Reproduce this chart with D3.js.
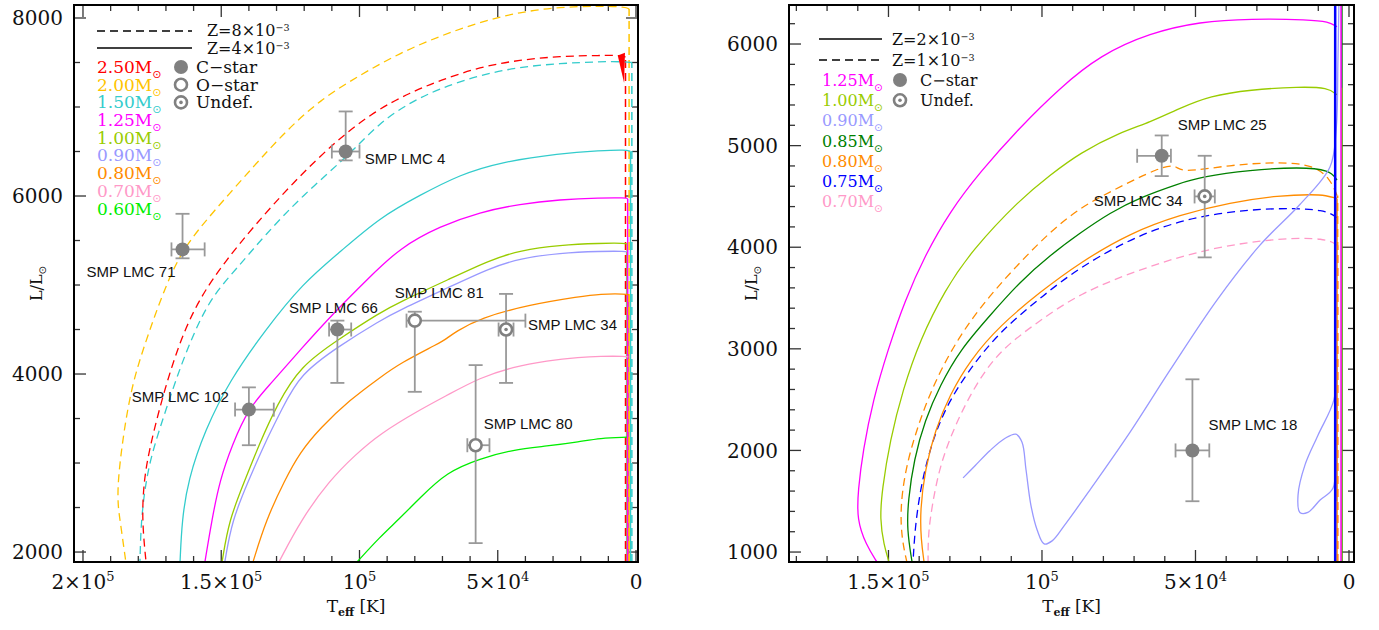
<!DOCTYPE html>
<html><head><meta charset="utf-8">
<script src="https://cdn.jsdelivr.net/npm/d3@7"></script>
<style>body{margin:0;background:#fff}</style></head>
<body><svg id="c" width="1379" height="630"></svg>
<script>
// ================= DATA =================
// ---- Left panel: Z=8e-3 (dashed) and Z=4e-3 (solid); [Teff K, L/Lsun]
const trkL_250_Z8 = [[3800,7560],[5000,7580],[13000,7580],[27500,7570],[42000,7530],[56400,7450],[70900,7300],[81700,7160],[93700,6970],[108200,6630],[124100,6150],[138500,5650],[148700,5260],[156600,4910],[162800,4530],[167800,4100],[172200,3630],[175800,3180],[178000,2810],[178700,2360],[177200,1890]];
const trkL_200_Z8 = [[2500,8100],[3600,8124],[13000,8135],[27500,8124],[42000,8067],[56400,7955],[70900,7798],[85400,7607],[99800,7360],[114300,7079],[127000,6719],[138500,6326],[152300,5843],[164200,5404],[171100,4910],[176500,4438],[181900,3933],[185200,3371],[187400,2809],[187400,2528],[186600,2360],[184500,1888]];
const trkL_150_Z8 = [[1500,7500],[5000,7510],[13000,7510],[27500,7490],[42000,7450],[56400,7360],[70900,7210],[81700,7050],[92600,6830],[104500,6440],[120500,6010],[134200,5560],[144300,5190],[153400,4870],[159500,4490],[164900,4070],[170000,3600],[174700,3150],[177200,2810],[179000,2360],[179400,1890]];
const trkL_150_Z4 = [[2000,6500],[3600,6520],[13000,6510],[27500,6480],[49200,6380],[63700,6240],[78100,6010],[92600,5760],[107100,5370],[120500,5020],[134200,4490],[146900,3930],[155900,3370],[162000,2810],[164200,2360],[164900,1890]];
const trkL_125_Z4 = [[3000,5970],[3600,5980],[13000,5980],[27500,5960],[42000,5910],[56400,5820],[70900,5660],[85400,5420],[97300,5060],[108900,4700],[121500,4270],[132400,3880],[140300,3610],[146100,3200],[150500,2810],[153400,2360],[155900,1890]];
const trkL_100_Z4 = [[3200,5460],[3600,5470],[13000,5470],[27500,5450],[42000,5390],[52800,5280],[67300,5070],[85400,4810],[92600,4690],[107100,4400],[121500,4090],[129900,3650],[136000,3230],[141400,2810],[147200,2360],[149700,1890]];
const trkL_090_Z4 = [[3400,5370],[3600,5380],[13000,5380],[27500,5360],[42000,5300],[52800,5190],[67300,4980],[85400,4720],[92600,4600],[107100,4320],[121500,4000],[128000,3610],[134600,3200],[140000,2810],[146100,2360],[148700,1890]];
const trkL_080_Z4 = [[2600,4890],[3600,4900],[13000,4900],[20300,4870],[38300,4780],[56400,4630],[65500,4470],[68400,4400],[70900,4350],[85400,4120],[92600,3960],[103500,3710],[114300,3390],[121500,3120],[127000,2810],[133800,2360],[138500,1890]];
const trkL_070_Z4 = [[2800,4190],[3600,4200],[13000,4200],[20300,4190],[32200,4150],[44500,4080],[56400,3960],[68400,3760],[78100,3600],[92600,3330],[101600,3090],[110700,2810],[121200,2360],[129100,1890]];
const trkL_060_Z4 = [[3300,3290],[3600,3290],[13000,3280],[20300,3240],[32200,3190],[44500,3150],[56400,3050],[68400,2900],[78100,2610],[85700,2370],[92600,2170],[100900,1888]];
// AGB (vertical) parts on the left panel
const agbL_250 = [[3800,1888],[3800,7560]];
const agbL_200 = [[2500,1888],[2500,8100]];
const agbL_150_Z8 = [[1500,1888],[1500,7500]];
const agbL_150_Z4 = [[2000,1888],[2000,6500]];
const agbL_125 = [[3000,1888],[3000,5970]];
const agbL_100 = [[3200,1888],[3200,5460]];
const agbL_090 = [[3400,1888],[3400,5370]];
const agbL_080 = [[2600,1888],[2600,4890]];
const agbL_070 = [[2800,1888],[2800,4190]];
const agbL_060 = [[3300,1888],[3300,4900]];
const blobL_250 = [[4000,7610],[6600,7580],[4300,7270]];

// ---- Right panel: Z=2e-3 (solid) and Z=1e-3 (dashed)
const trkR_125_Z2 = [[3900,6170],[6800,6220],[12700,6240],[32200,6250],[48500,6220],[64800,6110],[81100,5890],[94100,5570],[107200,5180],[120200,4740],[130000,4350],[138100,3920],[144600,3480],[150200,2990],[155000,2500],[158300,2000],[159900,1610],[160300,1320],[157300,1070],[153700,900]];
const trkR_100_Z2 = [[3900,5500],[6800,5570],[16000,5580],[32200,5550],[45300,5490],[55000,5370],[64800,5230],[74600,5130],[87600,4930],[97400,4710],[107200,4470],[122800,3970],[131600,3580],[139700,3090],[145300,2600],[149500,2100],[152100,1610],[152800,1320],[151500,1070],[149800,900]];
const trkR_090_Z2 = [[125700,1730],[121800,1850],[116900,2000],[112000,2120],[108500,2160],[106500,2080],[105200,1810],[103600,1460],[101600,1220],[99300,1080],[96700,1110],[92500,1270],[84400,1610],[71300,2180],[58300,2790],[43000,3480],[29000,4020],[16000,4420],[6200,4790],[4200,5150],[3600,5840],[3300,6384]];
const loopR_090_Z2 = [[3900,2890],[4900,2500],[10100,2150],[14300,1860],[16600,1560],[16000,1390],[13400,1390],[9500,1510],[5200,1630],[4600,2100],[3900,2890]];
const trkR_085_Z2 = [[3900,4660],[6200,4760],[16000,4790],[32200,4760],[48500,4690],[55000,4630],[68100,4490],[77800,4340],[87600,4140],[97400,3920],[107200,3660],[116900,3330],[126700,2990],[133200,2640],[138100,2300],[141700,1910],[143600,1510],[144000,1220],[142300,900]];
const trkR_080_Z1 = [[3900,4510],[6200,4680],[11700,4810],[22500,4840],[38800,4810],[55000,4730],[56000,4810],[61600,4790],[76900,4560],[87600,4390],[97400,4150],[107200,3850],[116900,3530],[126700,3140],[134800,2690],[140400,2250],[144600,1810],[146200,1410],[145600,1120],[144000,900]];
const trkR_080_Z2 = [[3900,4480],[7500,4510],[11700,4520],[22500,4510],[38800,4440],[55000,4320],[71300,4140],[87600,3850],[100600,3560],[113700,3230],[123400,2890],[130000,2550],[134800,2200],[138100,1810],[139700,1410],[139400,1120],[138400,900]];
const trkR_075_Z1 = [[3900,4290],[7500,4370],[22500,4390],[44300,4340],[65800,4170],[87600,3810],[100600,3500],[113700,3170],[123400,2810],[131600,2420],[136500,2020],[139700,1610],[141400,1220],[142000,900]];
const trkR_070_Z1 = [[3900,4020],[7500,4090],[22500,4090],[44300,4000],[65800,3810],[87600,3550],[100600,3280],[113700,2990],[121800,2640],[128300,2250],[133200,1860],[135800,1460],[137100,1170],[137100,900]];
// AGB (vertical) parts on the right panel
const agbR_125 = [[2600,902],[2600,6384]];
const agbR_100 = [[2400,902],[2400,5570]];
const agbR_085 = [[2300,902],[2300,6384]];
const agbR_080_Z2 = [[3900,902],[3900,4480]];
const agbR_080_Z1 = [[3700,902],[3700,4510]];
const agbR_070_Z1 = [[3600,902],[3600,4020]];
const agbR_090 = [[4200,1500],[4200,2900]];
const agbR_075 = [[4500,902],[4500,6384]];

// ---- Observed PNe
const starsLeft = [
  {name:"SMP LMC 4",   type:"C", T:105000, L:6500, tp:5000, tm:5000,  lp:450, lm:100},
  {name:"SMP LMC 71",  type:"C", T:164000, L:5400, tp:4000, tm:8000,  lp:400, lm:100},
  {name:"SMP LMC 102", type:"C", T:140000, L:3600, tp:5000, tm:9000,  lp:250, lm:400},
  {name:"SMP LMC 66",  type:"C", T:108000, L:4500, tp:3000, tm:5000,  lp:100, lm:600},
  {name:"SMP LMC 81",  type:"O", T:80000,  L:4600, tp:3000, tm:40000, lp:100, lm:800},
  {name:"SMP LMC 34",  type:"U", T:47000,  L:4500, tp:2700, tm:2700,  lp:400, lm:600},
  {name:"SMP LMC 80",  type:"O", T:58000,  L:3200, tp:3000, tm:5000,  lp:900, lm:1100}
];
const starsRight = [
  {name:"SMP LMC 25", type:"C", T:61000, L:4900, tp:8000, tm:3000, lp:200, lm:200},
  {name:"SMP LMC 34", type:"U", T:47000, L:4500, tp:3300, tm:3300, lp:400, lm:600},
  {name:"SMP LMC 18", type:"C", T:51000, L:2000, tp:5500, tm:5500, lp:700, lm:500}
];

// ---- Axes ticks
const xMajorLeft = [200000,150000,100000,50000,0];
const xMajorLeftLabels = ["2×10^5","1.5×10^5","10^5","5×10^4","0"];
const xMajorRight = [150000,100000,50000,0];
const xMajorRightLabels = ["1.5×10^5","10^5","5×10^4","0"];
const yMajorLeft = [2000,4000,6000,8000];
const yMajorRight = [1000,2000,3000,4000,5000,6000];

// ---- Legends
const massesLeft = ["2.50","2.00","1.50","1.25","1.00","0.90","0.80","0.70","0.60"];
const massesRight = ["1.25","1.00","0.90","0.85","0.80","0.75","0.70"];

// ================= STYLE =================
const colorL = {"2.50":"#ff0000","2.00":"#ffc400","1.50":"#33cccc","1.25":"#ff00ff","1.00":"#99cc00","0.90":"#9999ff","0.80":"#ff8c00","0.70":"#ff99c8","0.60":"#00ee00"};
const colorR = {"1.25":"#ff00ff","1.00":"#99cc00","0.90":"#9999ff","0.85":"#008000","0.80":"#ff8c00","0.75":"#0000ff","0.70":"#ff99c8"};
const DASH = "8,5";
const GREY = "#808080", EGREY = "#999999";
const TICKFONT = "'DejaVu Serif', serif";

const svg = d3.select("#c");
svg.append("rect").attr("width",1379).attr("height",630).attr("fill","#fff");

const xL = d3.scaleLinear().domain([203250,-720]).range([74,638]);
const yL = d3.scaleLinear().domain([1888,8146]).range([562,5]);
const xR = d3.scaleLinear().domain([182400,-1630]).range([789,1354]);
const yR = d3.scaleLinear().domain([902,6384]).range([562,5]);

function addSci(t, str){
  const p = str.split("^");
  t.append("tspan").text(p[0]);
  if(p[1]) t.append("tspan").attr("dy",-8).attr("font-size",13).text(p[1]);
}

function panel(id, x, y, xMaj, xMajLab, xMinStep, yMaj, yMinStep){
  const [x0,x1] = x.range(), [y1,y0] = y.range();
  const g = svg.append("g");
  svg.append("clipPath").attr("id","clip"+id).append("rect")
    .attr("x",x0).attr("y",y0).attr("width",x1-x0).attr("height",y1-y0);
  const tg = g.append("g").attr("stroke","#333").attr("stroke-width",1.3);
  const xd = x.domain(), yd = y.domain();
  const xmin = Math.min(...xd), xmax = Math.max(...xd);
  const xMinor = d3.range(0, xmax+1, xMinStep).filter(v=>v>=xmin && !xMaj.includes(v));
  const yMinor = d3.range(Math.ceil(yd[0]/yMinStep)*yMinStep, yd[1]+1, yMinStep).filter(v=>!yMaj.includes(v));
  const xt = xMaj.map(v=>[v,12]).concat(xMinor.map(v=>[v,6]));
  const yt = yMaj.map(v=>[v,12]).concat(yMinor.map(v=>[v,6]));
  xt.forEach(([v,len])=>{
    tg.append("line").attr("x1",x(v)).attr("x2",x(v)).attr("y1",y1).attr("y2",y1-len);
    tg.append("line").attr("x1",x(v)).attr("x2",x(v)).attr("y1",y0).attr("y2",y0+len);
  });
  yt.forEach(([v,len])=>{
    tg.append("line").attr("y1",y(v)).attr("y2",y(v)).attr("x1",x0).attr("x2",x0+len);
    tg.append("line").attr("y1",y(v)).attr("y2",y(v)).attr("x1",x1).attr("x2",x1-len);
  });
  xMaj.forEach((v,i)=>{
    const t = g.append("text").attr("x",x(v)).attr("y",589).attr("text-anchor","middle")
      .attr("font-family",TICKFONT).attr("font-size",20).attr("fill","#111");
    addSci(t, xMajLab[i]);
  });
  yMaj.forEach(v=>{
    g.append("text").attr("x",x0-11).attr("y",y(v)).attr("dy","0.36em").attr("text-anchor","end")
      .attr("font-family",TICKFONT).attr("font-size",20).attr("fill","#111").text(v);
  });
  const tt = g.append("text").attr("x",(x0+x1)/2).attr("y",612).attr("text-anchor","middle")
    .attr("font-family",TICKFONT).attr("font-size",17).attr("fill","#111");
  tt.append("tspan").text("T");
  tt.append("tspan").attr("font-size",11).attr("dy",4).attr("font-weight","bold").text("eff");
  tt.append("tspan").attr("dy",-4).text(" [K]");
  const yt2 = g.append("text").attr("transform",`translate(${x0-32},${(y0+y1)/2}) rotate(-90)`)
    .attr("text-anchor","middle").attr("font-family",TICKFONT).attr("font-size",16).attr("fill","#111");
  yt2.append("tspan").text("L/L");
  yt2.append("tspan").attr("font-size",10).attr("dy",4).attr("font-family","'DejaVu Sans'").text("⊙");
  const plot = svg.append("g").attr("clip-path",`url(#clip${id})`);
  return {plot, frame:()=>svg.append("rect").attr("x",x0).attr("y",y0).attr("width",x1-x0).attr("height",y1-y0)
    .attr("fill","none").attr("stroke","#000").attr("stroke-width",2)};
}

function drawLine(plot, x, y, pts, color, dashed, w, curve){
  const line = d3.line().x(d=>x(d[0])).y(d=>y(d[1])).curve(curve || d3.curveLinear);
  plot.append("path").attr("d",line(pts)).attr("fill","none").attr("stroke",color)
    .attr("stroke-width",w||1.3).attr("stroke-dasharray",dashed?DASH:null);
}

function symbol(gp, cx, cy, type){
  if(type==="C") gp.append("circle").attr("cx",cx).attr("cy",cy).attr("r",7).attr("fill",GREY);
  else {
    gp.append("circle").attr("cx",cx).attr("cy",cy).attr("r",6).attr("fill","#fff").attr("stroke",GREY).attr("stroke-width",2.6);
    if(type==="U") gp.append("circle").attr("cx",cx).attr("cy",cy).attr("r",1.8).attr("fill",GREY);
  }
}
function drawStars(gp, x, y, stars, labelPos){
  stars.forEach((s,i)=>{
    const cx = x(s.T), cy = y(s.L);
    const eg = gp.append("g").attr("stroke",EGREY).attr("stroke-width",1.8);
    const xa = x(s.T+s.tp), xb = x(s.T-s.tm), ya = y(s.L+s.lp), yb = y(s.L-s.lm);
    eg.append("line").attr("x1",xa).attr("x2",xb).attr("y1",cy).attr("y2",cy);
    eg.append("line").attr("x1",cx).attr("x2",cx).attr("y1",ya).attr("y2",yb);
    [xa,xb].forEach(v=>eg.append("line").attr("x1",v).attr("x2",v).attr("y1",cy-7).attr("y2",cy+7));
    [ya,yb].forEach(v=>eg.append("line").attr("y1",v).attr("y2",v).attr("x1",cx-7).attr("x2",cx+7));
    symbol(gp, cx, cy, s.type);
    const lp = labelPos[i];
    gp.append("text").attr("x",cx+lp[0]).attr("y",cy+lp[1]).attr("dy","0.35em")
      .attr("text-anchor",lp[2]).attr("font-family","'Liberation Sans', Arial, sans-serif")
      .attr("font-size",15).attr("fill","#111").text(s.name);
  });
}

function massLabel(g, xx, yy, m, color, fs){
  const t = g.append("text").attr("x",xx).attr("y",yy).attr("dy","0.35em")
    .attr("font-family",TICKFONT).attr("font-size",fs).attr("fill",color);
  t.append("tspan").text(m+"M");
  t.append("tspan").attr("font-family","'DejaVu Sans'").attr("font-size",fs*0.66).attr("dy",5).text("⊙");
}
function zLabel(g, xx, yy, mant, exp, fs){
  const t = g.append("text").attr("x",xx).attr("y",yy).attr("dy","0.35em")
    .attr("font-family",TICKFONT).attr("font-size",fs).attr("fill","#111");
  t.append("tspan").text("Z="+mant+"×10");
  t.append("tspan").attr("font-size",fs*0.6).attr("dy",-5).text(exp);
}

const SMOOTH = d3.curveBasis;

// ================= LEFT PANEL =================
const P1 = panel("L", xL, yL, xMajorLeft, xMajorLeftLabels, 10000, yMajorLeft, 500);
[[agbL_060,"0.60",false],[agbL_070,"0.70",false],[agbL_080,"0.80",false],[agbL_090,"0.90",false],[agbL_100,"1.00",false],
 [agbL_125,"1.25",false],[agbL_150_Z4,"1.50",false],[agbL_150_Z8,"1.50",true],[agbL_200,"2.00",true],[agbL_250,"2.50",true]]
 .forEach(([p,m,d])=>drawLine(P1.plot,xL,yL,p,colorL[m],d,1.5));
[[trkL_060_Z4,"0.60",false],[trkL_070_Z4,"0.70",false],[trkL_080_Z4,"0.80",false],[trkL_090_Z4,"0.90",false],
 [trkL_100_Z4,"1.00",false],[trkL_125_Z4,"1.25",false],[trkL_150_Z4,"1.50",false],
 [trkL_150_Z8,"1.50",true],[trkL_200_Z8,"2.00",true],[trkL_250_Z8,"2.50",true]]
 .forEach(([p,m,d])=>drawLine(P1.plot,xL,yL,p,colorL[m],d,1.3,SMOOTH));
P1.plot.append("path").attr("d",d3.line().x(d=>xL(d[0])).y(d=>yL(d[1]))(blobL_250)+"Z").attr("fill",colorL["2.50"]);
drawStars(svg.append("g"), xL, yL, starsLeft,
  [[19,7,"start"],[-7,22,"end"],[-20,-13,"end"],[-4,-22,"middle"],[-20,-28,"start"],[22,-5,"start"],[8,-21,"start"]]);
{
  const g = svg.append("g");
  g.append("line").attr("x1",97).attr("x2",192).attr("y1",31).attr("y2",31).attr("stroke","#000").attr("stroke-width",1.3).attr("stroke-dasharray",DASH);
  g.append("line").attr("x1",97).attr("x2",192).attr("y1",48).attr("y2",48).attr("stroke","#000").attr("stroke-width",1.3);
  zLabel(g,207,30,"8","−3",16); zLabel(g,207,48,"4","−3",16);
  massesLeft.forEach((m,i)=>massLabel(g,97,67+i*17.7,m,colorL[m],17));
  [["C","C−star"],["O","O−star"],["U","Undef."]].forEach(([t,lab],i)=>{
    symbol(g,181,67+i*17.7,t);
    g.append("text").attr("x",196).attr("y",67+i*17.7).attr("dy","0.35em").attr("font-family",TICKFONT).attr("font-size",17).attr("fill","#111").text(lab);
  });
}
P1.frame();

// ================= RIGHT PANEL =================
const P2 = panel("R", xR, yR, xMajorRight, xMajorRightLabels, 10000, yMajorRight, 200);
[[trkR_070_Z1,"0.70",true],[trkR_075_Z1,"0.75",true],[trkR_080_Z2,"0.80",false],[trkR_080_Z1,"0.80",true],
 [trkR_085_Z2,"0.85",false],[trkR_100_Z2,"1.00",false],[trkR_125_Z2,"1.25",false]]
 .forEach(([p,m,d])=>drawLine(P2.plot,xR,yR,p,colorR[m],d,1.3,SMOOTH));
[[trkR_090_Z2,"0.90"],[loopR_090_Z2,"0.90"]]
 .forEach(([p,m])=>drawLine(P2.plot,xR,yR,p,colorR[m],false,1.3,d3.curveCatmullRom.alpha(0.5)));
[[agbR_090,"0.90",false,3],[agbR_085,"0.85",false,1.5],[agbR_100,"1.00",false,1.5],[agbR_070_Z1,"0.70",true,1.5],[agbR_080_Z1,"0.80",true,1.5],
 [agbR_080_Z2,"0.80",false,1.5],[agbR_125,"1.25",false,1.5],[agbR_075,"0.75",false,2.5]]
 .forEach(([p,m,d,w])=>drawLine(P2.plot,xR,yR,p,colorR[m],d,w));
drawStars(svg.append("g"), xR, yR, starsRight, [[16,-31,"start"],[-22,4,"end"],[16,-26,"start"]]);
{
  const g = svg.append("g");
  g.append("line").attr("x1",819).attr("x2",882).attr("y1",39).attr("y2",39).attr("stroke","#000").attr("stroke-width",1.3);
  g.append("line").attr("x1",819).attr("x2",882).attr("y1",60).attr("y2",60).attr("stroke","#000").attr("stroke-width",1.3).attr("stroke-dasharray",DASH);
  zLabel(g,892,39,"2","−3",16); zLabel(g,892,60,"1","−3",16);
  massesRight.forEach((m,i)=>massLabel(g,822,80+i*20.3,m,colorR[m],16));
  [["C","C−star"],["U","Undef."]].forEach(([t,lab],i)=>{
    symbol(g,900,80+i*20.3,t);
    g.append("text").attr("x",920).attr("y",80+i*20.3).attr("dy","0.35em").attr("font-family",TICKFONT).attr("font-size",16).attr("fill","#111").text(lab);
  });
}
P2.frame();
</script></body></html>
